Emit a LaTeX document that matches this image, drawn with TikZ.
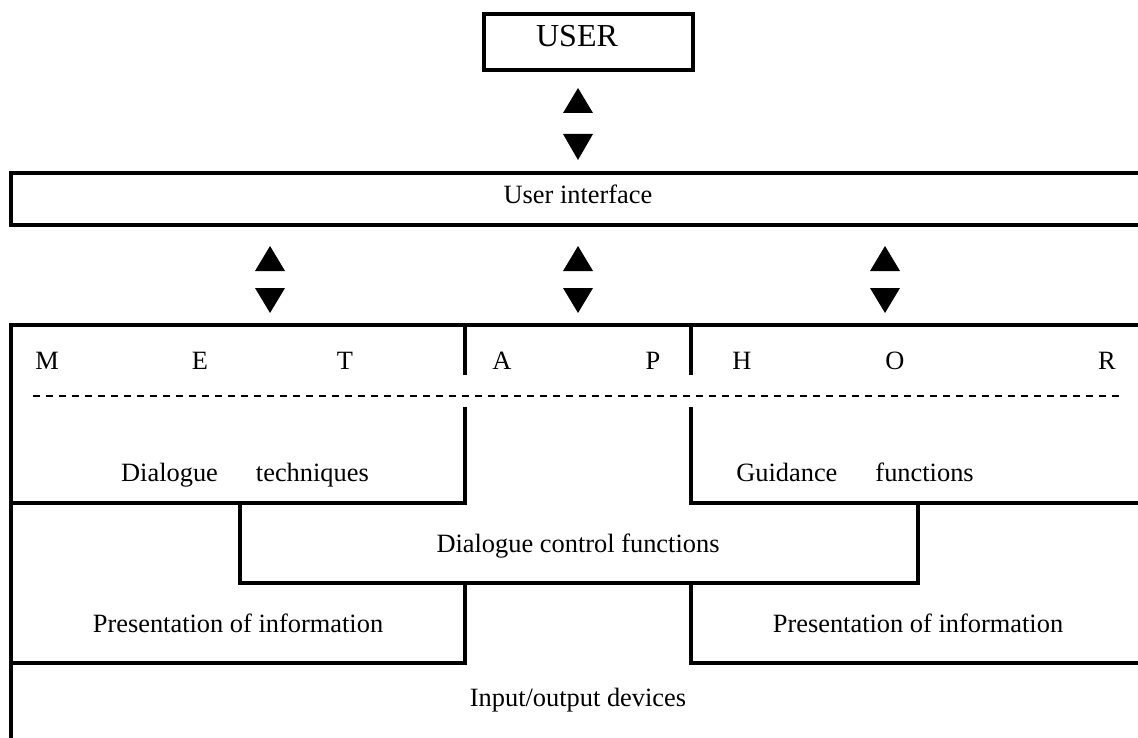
\documentclass[tikz,border=0pt]{standalone}
\usepackage{fontspec}
\setmainfont{Liberation Serif}
\usetikzlibrary{calc}

\tikzset{
  txt/.style = {anchor=base, inner sep=0pt, font=\fontsize{26.4}{30}\selectfont},
  bigtxt/.style = {anchor=base, inner sep=0pt, font=\fontsize{32}{36}\selectfont},
  wall/.style = {line width=4pt},
  sep line/.style = {line width=2pt, dash pattern=on 7pt off 6pt}
}

\begin{document}
\begin{tikzpicture}[x=1pt,y=-1pt]
          \useasboundingbox (0,0) rectangle (1138,738);

          % user on top
          \draw[wall] (484,14) rectangle (693,70);
          \node[bigtxt] (user) at (577,47) {USER};

          % triangles between the layers
          \foreach \x/\ya/\yb/\yc/\yd in {578/88/113/134/160, 270/246/271/288/313,
                                          578/246/271/288/313, 885/246/271/288/313}{
            \fill (\x,\ya) -- ($(\x,\yb)+(15,0)$) -- ($(\x,\yb)-(15,0)$) -- cycle;
            \fill (\x,\yd) -- ($(\x,\yc)+(15,0)$) -- ($(\x,\yc)-(15,0)$) -- cycle;
          }

          % user interface
          \draw[wall] (1140,173) -| (11,225) -- (1140,225);
          \node[txt] (ui) at (578,204) {User interface};

          % metaphor row
          \draw[wall] (1140,325) -| (11,740);
          \draw[wall] (465,325) -- (465,375);
          \draw[wall] (691,325) -- (691,375);
          \foreach \x/\l in {47/M, 200/E, 345/T, 502/A, 653/P, 742/H, 895/O, 1107/R}
            \node[txt] (m\l) at (\x,369) {\l};
          \draw[sep line] (33,396) -- (1123,396);

          % dialogue techniques and guidance functions
          \draw[wall] (465,407) -- (465,503) -- (11,503);
          \draw[wall] (691,407) -- (691,503) -- (1140,503);
          \node[txt] (dt) at (245,481) {Dialogue\hspace{38pt}techniques};
          \node[txt] (gf) at (855,481) {Guidance\hspace{38pt}functions};

          % dialogue control
          \draw[wall] (240,503) -- (240,583) -- (918,583) -- (918,503);
          \node[txt] (dcf) at (578,552) {Dialogue control functions};

          % presentation
          \draw[wall] (465,583) -- (465,663) -- (11,663);
          \draw[wall] (691,583) -- (691,663) -- (1140,663);
          \node[txt] (pl) at (238,632) {Presentation of information};
          \node[txt] (pr) at (918,632) {Presentation of information};

          % devices
          \node[txt] (io) at (578,706) {Input/output devices};
        \end{tikzpicture}
\end{document}
